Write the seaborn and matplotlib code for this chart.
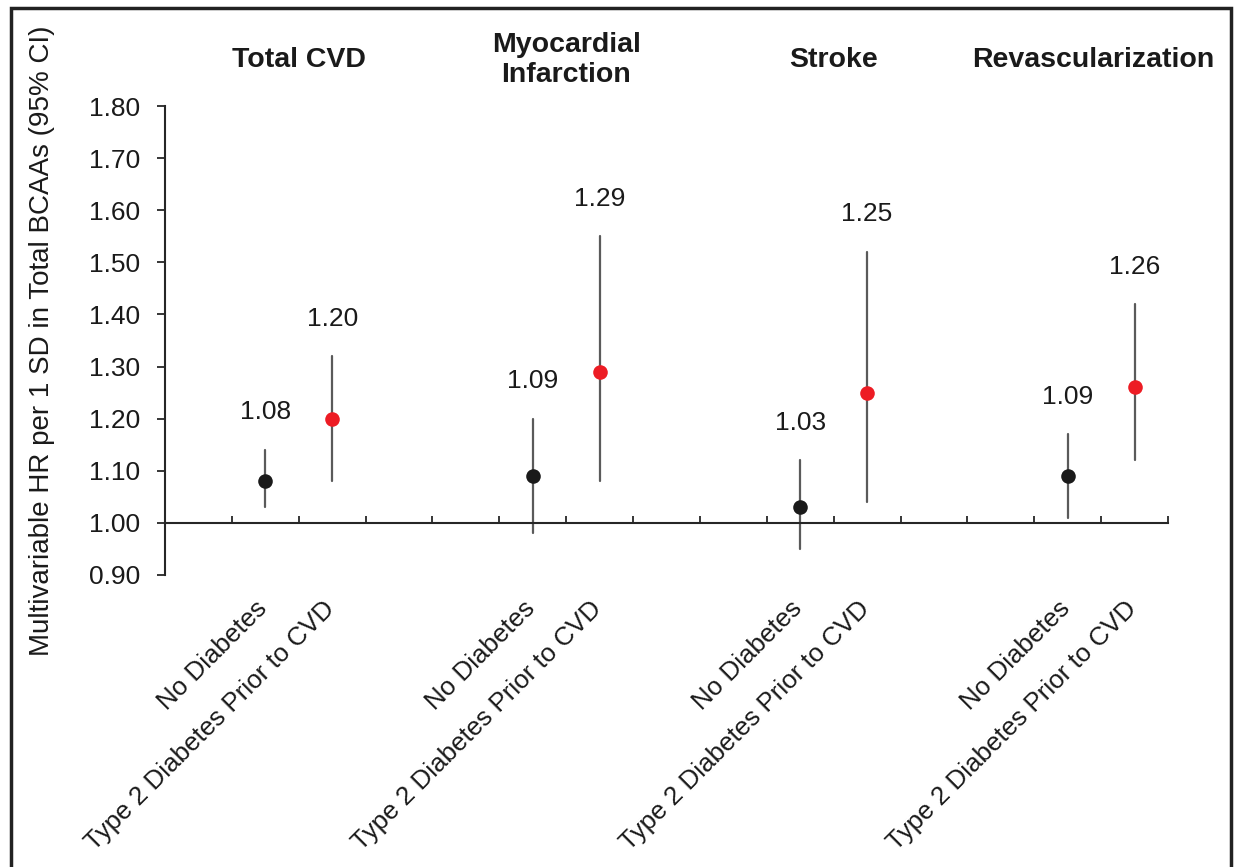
import numpy as np
import pandas as pd
import matplotlib
matplotlib.use("Agg")
import matplotlib.pyplot as plt
import matplotlib.transforms as mtransforms
from matplotlib.patches import Rectangle
import seaborn as sns

# ---------------- data ----------------
outcomes = ["Total CVD", "Myocardial\nInfarction", "Stroke", "Revascularization"]
groups = ["No Diabetes", "Type 2 Diabetes Prior to CVD"]

hr_no_diabetes = [1.08, 1.09, 1.03, 1.09]
lo_no_diabetes = [1.03, 0.98, 0.95, 1.01]
hi_no_diabetes = [1.14, 1.20, 1.12, 1.17]

hr_t2d = [1.20, 1.29, 1.25, 1.26]
lo_t2d = [1.08, 1.08, 1.04, 1.12]
hi_t2d = [1.32, 1.55, 1.52, 1.42]

y_ticks = [0.90, 1.00, 1.10, 1.20, 1.30, 1.40, 1.50, 1.60, 1.70, 1.80]
y_label = "Multivariable HR per 1 SD in Total BCAAs (95% CI)"

# ---------------- long-form table ----------------
series = {
    groups[0]: (hr_no_diabetes, lo_no_diabetes, hi_no_diabetes),
    groups[1]: (hr_t2d, lo_t2d, hi_t2d),
}
rows = []
for s, grp in enumerate(groups):
    hr, lo, hi = series[grp]
    for g in range(len(outcomes)):
        pos = 4 * g + 1 + s
        for v in (lo[g], hr[g], hi[g]):
            rows.append({"pos": pos, "value": v, "group": grp, "outcome": g})
df = pd.DataFrame(rows)

# ---------------- style ----------------
sns.set_theme(style="white")
plt.rcParams["font.family"] = ["Liberation Sans", "DejaVu Sans"]
TXT = "#1a1a1a"
AX = "#262626"

fig = plt.figure(figsize=(12.35, 8.67), dpi=100)
W, H = 1235, 867
ax = fig.add_axes([165 / W, (H - 575) / H, (1168 - 165) / W, (575 - 106) / H])

sns.pointplot(
    data=df, x="pos", y="value", hue="group", hue_order=groups,
    palette=["#1a1a1a", "#ed1c24"], native_scale=True,
    estimator="median", errorbar=("pi", 100),
    linestyle="none", markers="o", markersize=10.5, markeredgewidth=0,
    err_kws={"color": "#5a5a5a", "linewidth": 1.6, "zorder": 2},
    zorder=3, legend=False, ax=ax,
)

ax.set_xlim(-0.5, 14.5)
ax.set_ylim(0.9, 1.8)
ax.set_xlabel("")

# spines
for side in ("top", "right"):
    ax.spines[side].set_visible(False)
for side in ("left", "bottom"):
    ax.spines[side].set_color(AX)
    ax.spines[side].set_linewidth(1.5)
ax.spines["bottom"].set_position(("data", 1.0))

# y axis
ax.set_yticks(y_ticks)
ax.set_yticklabels([f"{v:.2f}" for v in y_ticks])
ax.tick_params(axis="y", direction="out", length=6, width=1.3, color=AX,
               labelsize=19, labelcolor=TXT, pad=12, left=True)
ax.set_ylabel(y_label, fontsize=20, color=TXT)
ax.yaxis.set_label_coords((55 - 165) / (1168 - 165), 0.5)

# x axis
xpos = [4 * g + 1 + s for g in range(len(outcomes)) for s in range(len(groups))]
xlab = [groups[s] for g in range(len(outcomes)) for s in range(len(groups))]
ax.set_xticks(xpos)
ax.set_xticklabels(xlab)
ax.set_xticks(np.arange(0.5, 15, 1.0), minor=True)
ax.tick_params(axis="x", which="major", length=0, pad=53, labelsize=18.7,
               labelcolor=TXT, bottom=True)
ax.tick_params(axis="x", which="minor", direction="in", length=5, width=1.3,
               color=AX, bottom=True)
shift = mtransforms.ScaledTranslation(-10 / 100, 0, fig.dpi_scale_trans)
for tick in ax.xaxis.get_major_ticks():
    lbl = tick.label1
    lbl.set_rotation(45)
    lbl.set_ha("right")
    lbl.set_va("top")
    lbl.set_rotation_mode("anchor")
    lbl.set_transform(lbl.get_transform() + shift)

# value labels above the upper CI
for s, grp in enumerate(groups):
    hr, lo, hi = series[grp]
    for g in range(len(outcomes)):
        ax.annotate(f"{hr[g]:.2f}", xy=(4 * g + 1 + s, hi[g]),
                    xytext=(0, 27), textcoords="offset points",
                    ha="center", va="center", fontsize=19, color=TXT)

# outcome titles
title_nudge = [0.0, 0.0, 0.0, -0.12]
for g, title in enumerate(outcomes):
    ax.text(4 * g + 1.5 + title_nudge[g], 1.888, title, ha="center", va="center",
            fontsize=20.5, fontweight="bold", color=TXT, linespacing=1.2,
            clip_on=False)

# outer frame
fig.add_artist(Rectangle((11 / W, -0.05), (1230.5 - 11) / W, 1.05 - 8 / H,
                         transform=fig.transFigure, fill=False,
                         lw=2.5, ec="#222222"))

fig.savefig("out.png", dpi=100)
